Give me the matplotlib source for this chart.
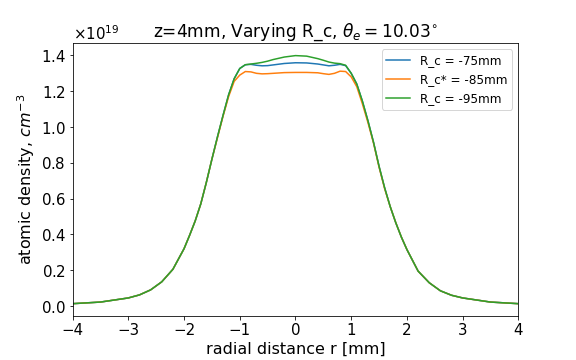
import numpy as np
import matplotlib
matplotlib.use("Agg")
import matplotlib.pyplot as plt
from matplotlib.ticker import MultipleLocator

# radial positions [mm]
r = [-4.0, -3.5, -3.0, -2.8, -2.6, -2.4, -2.2, -2.0, -1.9, -1.8, -1.7, -1.6,
     -1.5, -1.4, -1.3, -1.2, -1.1, -1.0, -0.9, -0.8, -0.7, -0.6, -0.5, -0.4,
     -0.2, 0.0, 0.2, 0.4, 0.5, 0.6, 0.7, 0.8, 0.9, 1.0, 1.1, 1.2, 1.3, 1.4,
     1.5, 1.6, 1.7, 1.8, 1.9, 2.0, 2.2, 2.4, 2.6, 2.8, 3.0, 3.5, 4.0]

# atomic density, units of 1e19 cm^-3
rc75 = [0.013, 0.022, 0.045, 0.062, 0.09, 0.135, 0.205, 0.32, 0.395, 0.475,
        0.57, 0.69, 0.82, 0.945, 1.065, 1.18, 1.27,
        1.327, 1.348, 1.35, 1.345, 1.342, 1.343, 1.347, 1.355, 1.359, 1.358,
        1.352, 1.347, 1.342, 1.345, 1.35, 1.343, 1.30,
        1.24, 1.145, 1.035, 0.915, 0.78, 0.66, 0.555, 0.465, 0.385, 0.315,
        0.195, 0.13, 0.085, 0.06, 0.045, 0.022, 0.013]
rc85 = [0.013, 0.022, 0.045, 0.062, 0.09, 0.135, 0.205, 0.32, 0.395, 0.475,
        0.57, 0.69, 0.82, 0.94, 1.06, 1.17, 1.255,
        1.29, 1.31, 1.308, 1.30, 1.297, 1.298, 1.30, 1.304, 1.305, 1.305,
        1.303, 1.298, 1.294, 1.30, 1.312, 1.31, 1.28,
        1.225, 1.13, 1.025, 0.91, 0.775, 0.655, 0.555, 0.465, 0.385, 0.315,
        0.195, 0.13, 0.085, 0.06, 0.045, 0.022, 0.013]
rc95 = [0.013, 0.022, 0.045, 0.062, 0.09, 0.135, 0.205, 0.32, 0.395, 0.475,
        0.57, 0.69, 0.82, 0.945, 1.065, 1.18, 1.27,
        1.327, 1.348, 1.352, 1.356, 1.361, 1.368, 1.377, 1.391, 1.399, 1.396,
        1.382, 1.373, 1.363, 1.357, 1.354, 1.345, 1.30,
        1.24, 1.145, 1.035, 0.915, 0.78, 0.66, 0.555, 0.465, 0.385, 0.315,
        0.195, 0.13, 0.085, 0.06, 0.045, 0.022, 0.013]

labels = ["R_c = -75mm", "R_c* = -85mm", "R_c = -95mm"]

fig = plt.figure(figsize=(8, 5), dpi=72)
ax = fig.add_axes([0.126, 0.122, 0.774, 0.758])

for vals, lab in zip([rc75, rc85, rc95], labels):
    ax.plot(r, np.array(vals) * 1e19, label=lab)

ax.set_xlim(-4, 4)
ax.yaxis.set_major_locator(MultipleLocator(0.2e19))
ax.ticklabel_format(axis="y", useMathText=True)
ax.set_xlabel("radial distance r [mm]", fontsize=16)
ax.set_ylabel("atomic density, $cm^{-3}$", fontsize=16)
ax.set_title(r"z=4mm, Varying R_c, $\theta_e = 10.03^{\circ}$", fontsize=17,
             y=1.0, pad=6)
ax.tick_params(labelsize=15)
ax.yaxis.get_offset_text().set_fontsize(15)
ax.legend(loc="upper right", fontsize=12)

fig.savefig("out.png", dpi=72)
